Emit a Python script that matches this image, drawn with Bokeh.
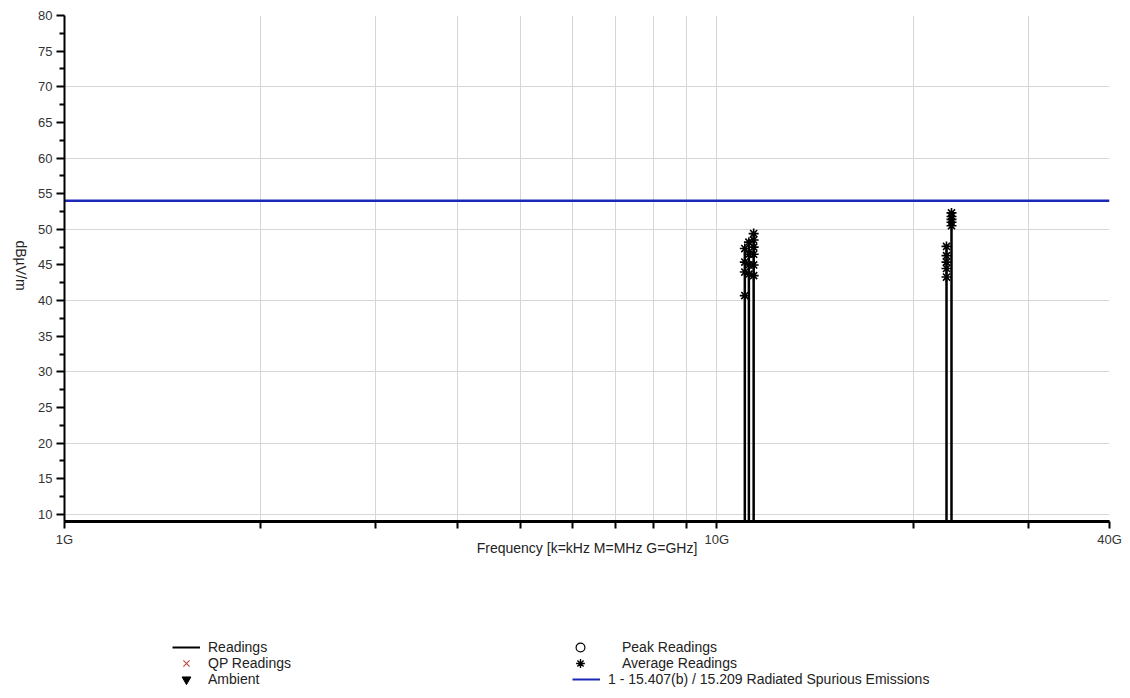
import math
from bokeh.plotting import figure
from bokeh.layouts import column, row
from bokeh.models import FixedTicker, Legend, LegendItem, Label
from bokeh.embed import file_html
from bokeh.resources import INLINE

# ---------------- data ----------------
freq_range_ghz = [1.0, 40.0]
level_range_db = [9.0, 80.0]
readings_floor_db = 9.0

avg_freq_ghz = [11.04, 11.04, 11.04, 11.04,
                11.2, 11.2, 11.2, 11.2,
                11.39, 11.39, 11.39, 11.39, 11.39, 11.39,
                22.5, 22.5, 22.5, 22.5, 22.5,
                22.9, 22.9, 22.9, 22.9, 22.9]
avg_level_db = [40.7, 44.0, 45.4, 47.3,
                43.7, 45.0, 46.5, 48.2,
                43.5, 45.0, 46.5, 47.5, 48.5, 49.4,
                43.3, 44.5, 45.4, 46.3, 47.6,
                50.5, 51.0, 51.4, 51.8, 52.3]

peak_freq_ghz = []
peak_level_db = []
qp_freq_ghz = []
qp_level_db = []
ambient_freq_ghz = []
ambient_level_db = []

limit_freq_ghz = [1.0, 40.0]
limit_level_db = [54.0, 54.0]
limit_name = "1 - 15.407(b) / 15.209 Radiated Spurious Emissions"

x_tick_values = [1, 2, 3, 4, 5, 6, 7, 8, 9, 10, 20, 30, 40]
x_tick_labels = {1: "1G", 10: "10G", 40: "40G"}
y_tick_values = [10, 15, 20, 25, 30, 35, 40, 45, 50, 55, 60, 65, 70, 75, 80]
y_grid_values = [10, 20, 30, 40, 50, 60, 70, 80]
y_title = "dBµV/m"
x_title = "Frequency [k=kHz M=MHz G=GHz]"

FONT = "Liberation Sans"
TEXT_COLOR = "#222222"
LIMIT_COLOR = "#1c28b8"
QP_COLOR = "#c0504d"

# readings trace: floor with a spike at each measured frequency
pairs = sorted(zip(avg_freq_ghz, avg_level_db))
readings_x = [freq_range_ghz[0]]
readings_y = [readings_floor_db]
for f, lv in pairs:
    readings_x += [f, f, f]
    readings_y += [readings_floor_db, lv, readings_floor_db]
readings_x.append(freq_range_ghz[1])
readings_y.append(readings_floor_db)

MAIN_H = 566
LABEL_W = 30
TOTAL_W = 1122
TOTAL_H = 690

# ---------------- main chart ----------------
p = figure(width=TOTAL_W - LABEL_W, height=MAIN_H, x_axis_type="log",
           x_range=tuple(freq_range_ghz), y_range=tuple(level_range_db),
           output_backend="svg", toolbar_location=None,
           min_border_left=64 - LABEL_W, min_border_right=13, min_border_top=15,
           min_border_bottom=45)
p.outline_line_color = None

p.xgrid.ticker = FixedTicker(ticks=x_tick_values)
p.ygrid.ticker = FixedTicker(ticks=y_grid_values)
p.grid.grid_line_color = "#d6d6d6"
p.grid.grid_line_width = 1

limit_r = p.line(limit_freq_ghz, limit_level_db, line_color=LIMIT_COLOR, line_width=2.5)
readings_r = p.line(readings_x, readings_y, line_color="black", line_width=2.5)
avg_r = p.scatter(avg_freq_ghz, avg_level_db, marker="asterisk", size=10,
                  line_color="black", line_width=1.6)
peak_r = p.scatter(peak_freq_ghz, peak_level_db, marker="circle", size=9,
                   fill_color=None, line_color="black", line_width=1.2)
qp_r = p.scatter(qp_freq_ghz, qp_level_db, marker="x", size=7,
                 line_color=QP_COLOR, line_width=1)
amb_r = p.scatter(ambient_freq_ghz, ambient_level_db, marker="inverted_triangle",
                  size=10, fill_color="black", line_color="black")

xa = p.xaxis[0]
xa.ticker = FixedTicker(ticks=x_tick_values, minor_ticks=[])
xa.major_label_overrides = {float(t): x_tick_labels.get(t, "") for t in x_tick_values}
xa.axis_line_width = 3
xa.axis_line_color = "black"
xa.major_tick_line_width = 2
xa.major_tick_out = 7
xa.major_tick_in = 0
xa.major_label_standoff = 3
xa.major_label_text_font = FONT
xa.major_label_text_font_size = "13px"
xa.major_label_text_color = "#333333"
xa.axis_label = x_title
xa.axis_label_text_font = FONT
xa.axis_label_text_font_size = "14px"
xa.axis_label_text_font_style = "normal"
xa.axis_label_text_color = TEXT_COLOR
xa.axis_label_standoff = -10

ya = p.yaxis[0]
minor = [(a + b) / 2 for a, b in zip(y_tick_values[:-1], y_tick_values[1:])]
ya.ticker = FixedTicker(ticks=y_tick_values, minor_ticks=minor)
ya.axis_line_width = 2
ya.axis_line_color = "black"
ya.major_tick_line_width = 2
ya.major_tick_out = 8
ya.major_tick_in = 0
ya.minor_tick_line_width = 2
ya.minor_tick_out = 5
ya.minor_tick_in = 0
ya.minor_tick_line_color = "black"
ya.major_label_standoff = 4
ya.major_label_text_font = FONT
ya.major_label_text_font_size = "13px"
ya.major_label_text_color = "#333333"


# ---------------- helper strips ----------------
def blank_fig(w, h):
    f = figure(width=w, height=h, x_range=(0, 1), y_range=(0, 1),
               output_backend="svg", toolbar_location=None,
               x_axis_location=None, y_axis_location=None,
               min_border=0)
    f.outline_line_color = None
    f.grid.visible = False
    return f


lf = blank_fig(LABEL_W, MAIN_H)
lf.add_layout(Label(x=20, y=256, x_units="screen", y_units="screen",
                    text=y_title, angle=-math.pi / 2, text_align="center",
                    text_baseline="middle", text_font=FONT,
                    text_font_size="14px", text_color=TEXT_COLOR))

LEG_H = TOTAL_H - MAIN_H
lg = blank_fig(TOTAL_W, LEG_H)
nan_pt = [float("nan")]
s_read = lg.line(nan_pt, nan_pt, line_color="black", line_width=2)
s_qp = lg.scatter(nan_pt, nan_pt, marker="x", size=7, line_color=QP_COLOR, line_width=1.2)
s_amb = lg.scatter(nan_pt, nan_pt, marker="inverted_triangle", size=10,
                   fill_color="black", line_color="black")
s_peak = lg.scatter(nan_pt, nan_pt, marker="circle", size=9, fill_color=None,
                    line_color="black", line_width=1.2)
s_avg = lg.scatter(nan_pt, nan_pt, marker="asterisk", size=10, line_color="black",
                   line_width=1.4)
s_lim = lg.line(nan_pt, nan_pt, line_color=LIMIT_COLOR, line_width=2)

ROW_H = 22
ROW_CENTERS = [647, 663, 679]   # page rows of the legend


def add_entry(label, renderer, glyph_x, row_idx, standoff):
    bottom = TOTAL_H - (ROW_CENTERS[row_idx] + ROW_H // 2)
    lg.add_layout(Legend(items=[LegendItem(label=label, renderers=[renderer])],
                         location=(glyph_x, bottom), orientation="vertical",
                         background_fill_alpha=0, border_line_color=None,
                         padding=0, margin=0, spacing=0,
                         label_height=ROW_H, glyph_height=ROW_H, glyph_width=28,
                         label_standoff=standoff, label_text_font=FONT,
                         label_text_font_size="14px", label_text_color=TEXT_COLOR))


add_entry("Readings", s_read, 172, 0, 8)
add_entry("QP Readings", s_qp, 172, 1, 8)
add_entry("Ambient", s_amb, 172, 2, 8)
add_entry("Peak Readings", s_peak, 566, 0, 28)
add_entry("Average Readings", s_avg, 566, 1, 28)
add_entry(limit_name, s_lim, 572, 2, 8)

layout = column(row(lf, p), lg)
open("out.html", "w").write(file_html(layout, INLINE))
